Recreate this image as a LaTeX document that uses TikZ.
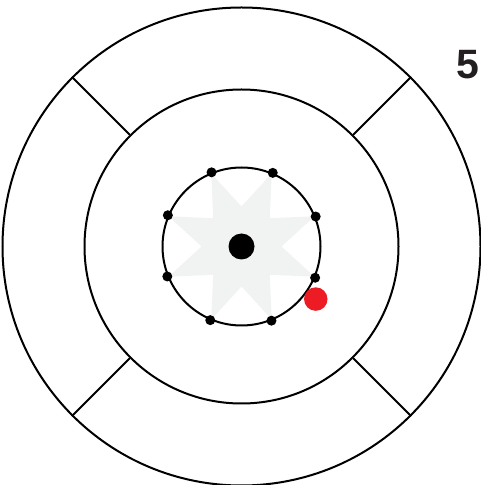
\documentclass[tikz,border=0pt]{standalone}
\usepackage{fontspec}
\setmainfont{Liberation Sans}
\definecolor{ink}{HTML}{000000}
\definecolor{starfill}{HTML}{F1F2F2}
\definecolor{reddot}{HTML}{ED1C24}
\definecolor{numcol}{HTML}{231F20}
\tikzset{
  ring/.style={draw=ink, line width=2pt},
  spoke/.style={draw=ink, line width=2pt},
  smalldot/.style={circle, fill=ink, inner sep=0pt, minimum size=10pt},
  hubdot/.style={circle, fill=ink, inner sep=0pt, minimum size=26pt},
  markdot/.style={circle, fill=reddot, inner sep=0pt, minimum size=23.5pt},
  numlabel/.style={font=\bfseries\fontsize{41}{41}\selectfont, text=numcol, inner sep=0pt}
}
\begin{document}
\begin{tikzpicture}[x=1pt,y=1pt]
\useasboundingbox (0,0) rectangle (480,485);
\coordinate (C) at (241.5,238.5);
% star
\fill[starfill, shift={(C)}] (0:40)
  \foreach \k in {1,...,15}{ -- ({\k*22.5}:{mod(\k,2)==1 ? 79 : 40}) } -- cycle;
% rings
\node[ring, circle, minimum size=478pt, inner sep=0pt] (outer) at (C) {};
\node[ring, circle, minimum size=314pt, inner sep=0pt] (middle) at (C) {};
\node[ring, circle, minimum size=158pt, inner sep=0pt] (inner) at (C) {};
% spokes
\foreach \a in {45,135,225,315}{
  \draw[spoke] (middle.\a) -- (outer.\a);
}
% dots on inner ring
\foreach \i [evaluate=\i as \ang using 22.5+45*\i] in {0,...,7}{
  \node[smalldot] (d\i) at (inner.\ang) {};
}
\node[hubdot] (hub) at (C) {};
\path (C) ++(-35.3:91) node[markdot] (red) {};
\node[numlabel] (num) at (467.5,420.5) {5};
\end{tikzpicture}
\end{document}
